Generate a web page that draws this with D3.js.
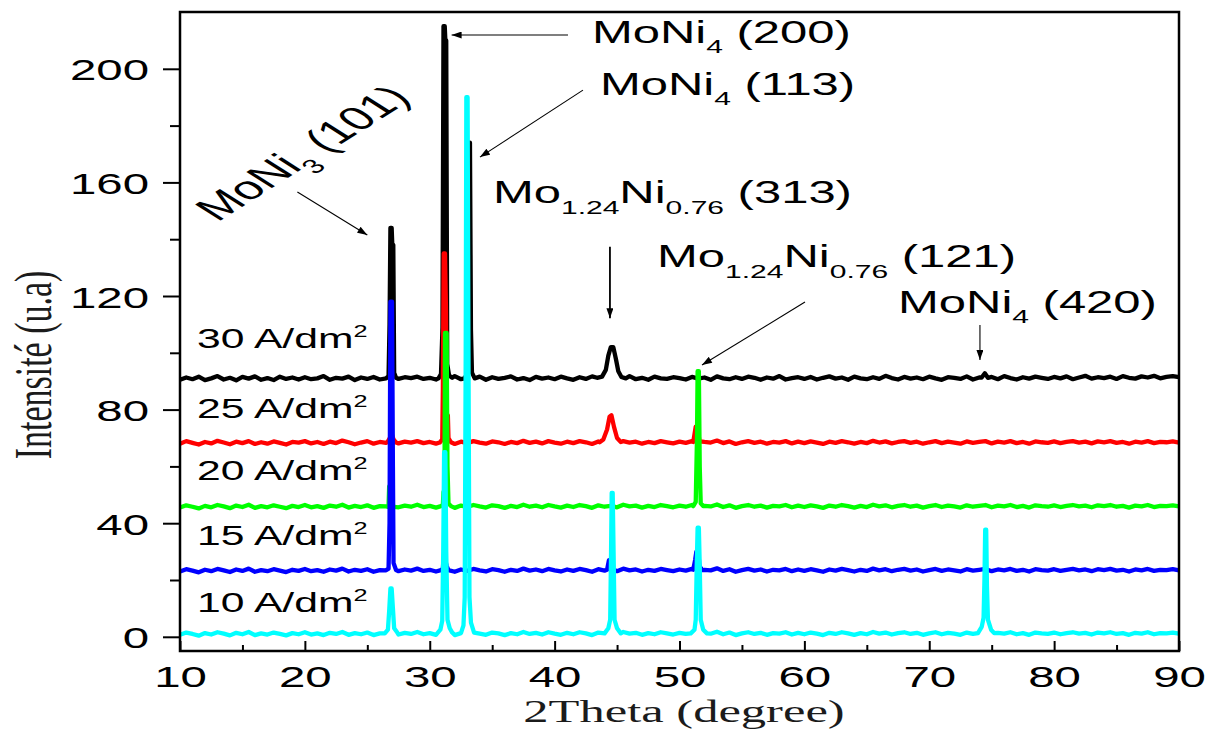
<!DOCTYPE html>
<html>
<head>
<meta charset="utf-8">
<script src="https://cdn.jsdelivr.net/npm/d3@7"></script>
<style>
  html, body { margin: 0; padding: 0; background: #fff; }
  svg { display: block; }
</style>
</head>
<body>
<svg id="chart" width="1216" height="731"></svg>
<script>
// ---- Diffractogram data: intensity (u.a) sampled every 0.5° from 10° to 90° ----
const twoThetaStart = 10, twoThetaEnd = 90, twoThetaStep = 0.5;

const base30 = [
  90.5,91.3,90.7,91.6,90.4,91.0,91.8,90.6,91.2,90.3,91.5,90.9,91.7,90.5,91.1,90.4,91.6,90.8,91.3,90.6,
  91.4,90.7,91.0,91.8,90.5,91.2,90.9,91.6,90.4,91.3,90.8,91.5,90.6,91.7,91.0,90.5,91.4,91.1,91.6,90.8,
  91.2,90.6,91.5,90.9,91.8,90.7,91.3,91.0,91.6,90.5,91.4,90.8,91.2,91.7,90.6,91.1,90.4,91.5,90.9,91.3,
  90.7,91.6,91.0,90.5,91.4,90.8,91.7,91.1,91.5,90.6,91.3,90.9,91.8,90.7,91.2,90.5,91.6,91.0,90.8,91.4,
  91.1,90.6,91.5,90.9,91.3,90.5,91.7,91.0,90.7,91.4,90.8,91.6,91.2,90.5,91.3,90.9,91.8,90.6,91.1,91.4,
  90.8,91.5,90.6,91.2,91.7,90.9,91.3,90.5,91.6,91.0,90.7,91.4,90.8,91.9,91.1,90.6,91.5,90.9,91.3,90.7,
  91.6,91.0,90.5,91.4,91.2,90.8,91.7,90.6,91.3,91.0,91.5,90.7,91.8,91.1,90.6,91.4,90.9,91.6,91.2,90.8,
  91.5,91.0,91.7,90.7,91.3,91.9,90.9,91.4,91.1,91.6,90.8,91.8,91.2,90.9,91.7,91.3,91.9,91.0,91.5,91.8,
  91.4
];
const base25 = [
  68.0,68.9,68.3,67.7,68.6,68.1,69.0,68.4,67.8,68.7,68.2,68.9,67.9,68.5,68.0,68.8,68.3,67.7,68.6,68.4,
  68.9,68.1,68.6,67.9,68.7,68.2,69.1,68.5,67.8,68.4,68.9,68.0,68.6,68.3,69.0,68.1,68.7,68.4,68.9,68.2,
  68.6,68.0,68.8,68.3,67.9,68.7,68.2,68.9,68.4,68.0,68.8,68.5,67.9,68.6,68.2,69.0,68.3,68.7,68.1,68.9,
  68.4,68.0,68.7,68.2,68.9,68.5,67.9,68.8,68.3,68.6,68.1,68.9,68.4,68.7,68.0,68.6,68.2,68.9,68.5,68.1,
  68.7,68.3,68.9,68.0,68.6,68.4,69.1,68.2,68.8,67.9,68.5,68.9,68.3,68.7,68.0,68.6,68.4,68.9,68.1,68.7,
  68.2,68.8,68.4,67.9,68.7,68.3,68.9,68.5,68.0,68.6,68.2,69.0,68.4,68.8,68.1,68.6,68.9,68.3,68.7,68.0,
  68.5,68.9,68.2,68.7,68.4,68.0,68.8,68.3,68.6,68.9,68.1,68.7,68.4,68.9,68.2,68.6,68.0,68.8,68.5,68.3,
  68.8,68.2,68.6,68.9,68.4,68.7,68.1,68.8,68.5,68.9,68.3,68.6,68.0,68.7,68.4,68.9,68.2,68.6,68.5,68.8,
  68.4
];
const base20 = [
  45.5,46.3,45.8,45.2,46.1,45.6,46.4,45.9,45.3,46.2,45.7,46.5,45.4,46.0,45.6,46.3,45.8,45.3,46.1,45.7,
  46.4,45.6,46.0,45.4,46.2,45.8,46.5,45.5,46.1,45.7,46.3,45.4,46.0,45.9,46.4,45.6,46.2,45.8,46.5,45.7,
  46.1,45.5,46.3,45.8,45.4,46.2,45.7,46.4,45.9,45.5,46.3,46.0,45.4,46.1,45.7,46.5,45.8,46.2,45.6,46.4,
  45.9,45.5,46.2,45.7,46.4,46.0,45.4,46.3,45.8,46.1,45.6,46.5,45.9,46.2,45.5,46.1,45.7,46.4,46.0,45.6,
  46.2,45.8,46.4,45.5,46.1,45.9,46.6,45.7,46.3,45.4,46.0,46.4,45.8,46.2,45.5,46.1,45.9,46.4,45.6,46.2,
  45.7,46.3,45.9,45.4,46.2,45.8,46.4,46.0,45.5,46.1,45.7,46.5,45.9,46.3,45.6,46.1,46.4,45.8,46.2,45.5,
  46.0,46.4,45.7,46.2,45.9,45.5,46.3,45.8,46.1,46.4,45.6,46.2,45.9,46.4,45.7,46.1,45.5,46.3,46.0,45.8,
  46.3,45.7,46.1,46.4,45.9,46.2,45.6,46.3,46.0,46.4,45.8,46.1,45.5,46.2,45.9,46.4,45.7,46.1,46.0,46.3,
  45.9
];
const base15 = [
  23.0,23.8,23.3,22.7,23.6,23.1,23.9,23.4,22.8,23.7,23.2,24.0,22.9,23.5,23.1,23.8,23.3,22.8,23.6,23.2,
  23.9,23.1,23.5,22.9,23.7,23.3,24.0,23.0,23.6,23.2,23.8,22.9,23.5,23.4,23.9,23.1,23.7,23.3,24.0,23.2,
  23.6,23.0,23.8,23.3,22.9,23.7,23.2,23.9,23.4,23.0,23.8,23.5,22.9,23.6,23.2,24.0,23.3,23.7,23.1,23.9,
  23.4,23.0,23.7,23.2,23.9,23.5,22.9,23.8,23.3,23.6,23.1,24.0,23.4,23.7,23.0,23.6,23.2,23.9,23.5,23.1,
  23.7,23.3,23.9,23.0,23.6,23.4,24.1,23.2,23.8,22.9,23.5,23.9,23.3,23.7,23.0,23.6,23.4,23.9,23.1,23.7,
  23.2,23.8,23.4,22.9,23.7,23.3,23.9,23.5,23.0,23.6,23.2,24.0,23.4,23.8,23.1,23.6,23.9,23.3,23.7,23.0,
  23.5,23.9,23.2,23.7,23.4,23.0,23.8,23.3,23.6,23.9,23.1,23.7,23.4,23.9,23.2,23.6,23.0,23.8,23.5,23.3,
  23.8,23.2,23.6,23.9,23.4,23.7,23.1,23.8,23.5,23.9,23.3,23.6,23.0,23.7,23.4,23.9,23.2,23.6,23.5,23.8,
  23.4
];
const base10 = [
  0.7,1.5,1.0,0.4,1.3,0.8,1.6,1.1,0.5,1.4,0.9,1.7,0.6,1.2,0.8,1.5,1.0,0.5,1.3,0.9,
  1.6,0.8,1.2,0.6,1.4,1.0,1.7,0.7,1.3,0.9,1.5,0.6,1.2,1.1,1.6,0.8,1.4,1.0,1.7,0.9,
  1.3,0.7,1.5,1.0,0.6,1.4,0.9,1.6,1.1,0.7,1.5,1.2,0.6,1.3,0.9,1.7,1.0,1.4,0.8,1.6,
  1.1,0.7,1.4,0.9,1.6,1.2,0.6,1.5,1.0,1.3,0.8,1.7,1.1,1.4,0.7,1.3,0.9,1.6,1.2,0.8,
  1.4,1.0,1.6,0.7,1.3,1.1,1.8,0.9,1.5,0.6,1.2,1.6,1.0,1.4,0.7,1.3,1.1,1.6,0.8,1.4,
  0.9,1.5,1.1,0.6,1.4,1.0,1.6,1.2,0.7,1.3,0.9,1.7,1.1,1.5,0.8,1.3,1.6,1.0,1.4,0.7,
  1.2,1.6,0.9,1.4,1.1,0.7,1.5,1.0,1.3,1.6,0.8,1.4,1.1,1.6,0.9,1.3,0.7,1.5,1.2,1.0,
  1.5,0.9,1.3,1.6,1.1,1.4,0.8,1.5,1.2,1.6,1.0,1.3,0.7,1.4,1.1,1.6,0.9,1.3,1.2,1.5,
  1.1
];

// Reflection profiles, finely sampled: [2θ, intensity]
const peaks30 = [
  [[26.5,91.0],[26.7,91.8],[26.78,110],[26.85,144],[26.95,144],[27.0,138],[27.08,138],[27.15,93],[27.3,91.2],[27.5,90.8]],
  [[30.7,91.0],[30.9,92.5],[31.02,109],[31.1,215],[31.2,215],[31.25,210],[31.32,210],[31.4,96],[31.55,92],[31.8,91.2]],
  [[32.8,91.0],[32.95,92.5],[33.05,110],[33.12,174],[33.22,174],[33.3,108],[33.38,93],[33.6,91.0]],
  [[43.4,91.2],[43.8,91.6],[44.1,94],[44.3,99],[44.5,102],[44.7,102],[44.9,98],[45.1,93.5],[45.35,91.5],[45.7,91.0]],
  [[74.2,91.3],[74.45,92.8],[74.7,91.2]]
];
const peaks25 = [
  [[26.6,68.5],[26.8,70],[26.95,71.5],[27.1,69.5],[27.3,68.4]],
  [[30.8,68.4],[31.0,69.5],[31.05,87],[31.12,135],[31.22,135],[31.3,115],[31.35,78],[31.45,78],[31.5,70],[31.7,68.5]],
  [[43.6,68.5],[43.9,69.5],[44.2,73],[44.4,77.5],[44.55,78],[44.75,74],[45.0,70],[45.3,68.6]],
  [[51.1,68.6],[51.3,74],[51.45,74],[51.6,68.8]]
];
const peaks20 = [
  [[26.6,45.8],[26.7,46.0],[26.75,53],[26.82,53],[26.88,46.5],[27.0,45.8]],
  [[30.9,46.0],[31.05,46.5],[31.1,51],[31.18,51],[31.22,107],[31.35,107],[31.42,60],[31.5,47],[31.7,46.0]],
  [[51.1,46.0],[51.3,47.5],[51.4,70],[51.45,93.5],[51.55,93.5],[51.62,60],[51.7,47],[51.9,46.0]]
];
const peaks15 = [
  [[26.5,23.4],[26.7,24.0],[26.78,40],[26.85,118],[26.98,118],[27.05,60],[27.1,26],[27.3,23.5]],
  [[30.9,23.5],[31.05,24.0],[31.1,27.5],[31.25,27],[31.35,25],[31.5,23.5]],
  [[44.2,23.6],[44.35,27],[44.5,27],[44.65,23.8]],
  [[51.1,23.6],[51.25,27],[51.35,30],[51.5,30],[51.6,25],[51.8,23.5]]
];
const peaks10 = [
  [[26.4,1.2],[26.65,2.5],[26.75,9],[26.85,17],[26.95,17],[27.05,10],[27.15,3],[27.4,1.5]],
  [[30.6,1.2],[30.85,2.5],[31.0,5.6],[31.08,30],[31.15,65],[31.25,65],[31.32,30],[31.42,6],[31.6,3],[31.8,1.5]],
  [[32.5,1.3],[32.7,4],[32.8,14],[32.88,100],[32.93,190],[33.03,190],[33.1,100],[33.18,14],[33.3,5],[33.55,1.5]],
  [[44.0,1.2],[44.3,3],[44.45,6],[44.52,30],[44.57,50.7],[44.65,50.7],[44.72,30],[44.8,6],[45.0,3],[45.3,1.2]],
  [[50.9,1.2],[51.2,2.5],[51.3,6],[51.38,25],[51.45,38.4],[51.55,38.4],[51.62,25],[51.7,6],[51.9,2.5],[52.2,1.2]],
  [[73.9,1.3],[74.2,3.5],[74.35,6.7],[74.42,20],[74.48,37.7],[74.56,37.7],[74.62,18],[74.7,6],[74.95,2.5],[75.2,1.3]]
];

const currentDensities = ["30", "25", "20", "15", "10"];
const seriesColors = ["#000000", "#ff0000", "#00ff00", "#0000ff", "#00ffff"];
const labelLevels = [101.7, 77.0, 55.2, 32.3, 8.7];   // baseline of each curve label (u.a)

const yMajorTicks = [0, 40, 80, 120, 160, 200];
const yMinorTicks = [20, 60, 100, 140, 180];
const xMajorTicks = [10, 20, 30, 40, 50, 60, 70, 80, 90];
const xMinorTicks = [15, 25, 35, 45, 55, 65, 75, 85];

// Phase labels: text parts [string, size, baseline shift], anchor and arrow in data units
const annotations = [
  { parts: [["MoNi", 33, 0], ["3", 20, 10], [" (101)", 33, 0]], at: [13.0, 145.9], rotate: -45,
    from: [19.4, 156.6], to: [25.0, 141.5] },
  { parts: [["MoNi", 31, 0], ["4", 19, 10], [" (200)", 31, 0]], at: [42.99, 209.1],
    from: [41.07, 211.9], to: [31.75, 211.9] },
  { parts: [["MoNi", 31, 0], ["4", 19, 10], [" (113)", 31, 0]], at: [43.63, 190.8],
    from: [42.27, 192.5], to: [34.02, 168.9] },
  { parts: [["Mo", 31, 0], ["1.24", 19, 11], ["Ni", 31, 0], ["0.76", 19, 11], [" (313)", 31, 0]], at: [35.06, 152.7],
    from: [44.43, 137.3], to: [44.43, 112.2], heavy: true },
  { parts: [["Mo", 31, 0], ["1.24", 19, 11], ["Ni", 31, 0], ["0.76", 19, 11], [" (121)", 31, 0]], at: [48.2, 130.2],
    from: [60.05, 117.9], to: [51.8, 95.7] },
  { parts: [["MoNi", 31, 0], ["4", 19, 10], [" (420)", 31, 0]], at: [67.5, 114.0],
    from: [74.06, 109.8], to: [74.06, 97.5] }
];

// ---- Layout ----
const W = 1216, H = 731;
const plot = { left: 180, right: 1179, top: 12, bottom: 651 };
const SX = 1.58;                 // horizontal stretch applied to all lettering
const sans = "'Liberation Sans', Arial, Helvetica, sans-serif";
const serif = "'Liberation Serif', 'Times New Roman', Times, serif";

const svg = d3.select("#chart");
svg.append("rect").attr("width", W).attr("height", H).attr("fill", "#fff");

const x = d3.scaleLinear().domain([10, 90]).range([plot.left, plot.right]);
const y = d3.scaleLinear().domain([-5, 220]).range([plot.bottom, plot.top]);

const grid = d3.range(twoThetaStart, twoThetaEnd + twoThetaStep / 2, twoThetaStep);

function profile(base, peaks) {
  const pts = grid.map((t, i) => [t, base[i]])
    .filter(([t]) => !peaks.some(g => t >= g[0][0] && t <= g[g.length - 1][0]));
  peaks.forEach(g => g.forEach(p => pts.push(p)));
  pts.sort((a, b) => a[0] - b[0]);
  return pts;
}

const bases = [base30, base25, base20, base15, base10];
const peakSets = [peaks30, peaks25, peaks20, peaks15, peaks10];
const series = currentDensities.map((c, i) => ({
  name: c, color: seriesColors[i], level: labelLevels[i], points: profile(bases[i], peakSets[i])
}));

// Stretched text helper: parts = [[text, size, shift], ...]
function stretchedText(parent, px, py, parts, opts = {}) {
  const rot = opts.rotate ? ` rotate(${opts.rotate})` : "";
  const t = parent.append("text")
    .attr("transform", `translate(${px},${py}) scale(${SX},1)${rot}`)
    .attr("font-family", opts.family || sans)
    .attr("text-anchor", opts.anchor || "start")
    .attr("fill", opts.fill || "#000");
  let prev = 0;
  parts.forEach(([s, size, shift]) => {
    t.append("tspan").attr("font-size", size).attr("dy", shift - prev).text(s);
    prev = shift;
  });
  return t;
}

// ---- Curves (drawn from the highest current density down) ----
const line = d3.line().x(d => x(d[0])).y(d => y(d[1]));
svg.append("g").selectAll("path").data(series).join("path")
  .attr("d", d => line(d.points))
  .attr("fill", "none")
  .attr("stroke", d => d.color)
  .attr("stroke-width", 4.3)
  .attr("stroke-linejoin", "round");

// ---- Axes ----
const yAxis = svg.append("g").attr("transform", `translate(${plot.left},0)`)
  .call(d3.axisLeft(y).tickValues(yMajorTicks).tickSize(17).tickFormat(d3.format("d")));
const yMinor = svg.append("g").attr("transform", `translate(${plot.left},0)`)
  .call(d3.axisLeft(y).tickValues(yMinorTicks).tickSize(10).tickFormat(""));
const xAxis = svg.append("g").attr("transform", `translate(0,${plot.bottom})`)
  .call(d3.axisBottom(x).tickValues(xMajorTicks).tickSize(-10).tickFormat(d3.format("d")));
const xMinor = svg.append("g").attr("transform", `translate(0,${plot.bottom})`)
  .call(d3.axisBottom(x).tickValues(xMinorTicks).tickSize(-6).tickFormat(""));

[yAxis, yMinor, xAxis, xMinor].forEach(g => {
  g.select(".domain").remove();
  g.selectAll(".tick line").attr("stroke", "#000").attr("stroke-width", 2);
});
yAxis.selectAll(".tick text")
  .attr("x", null).attr("dy", null)
  .attr("transform", "translate(-31,11) scale(" + SX + ",1)")
  .attr("font-family", sans).attr("font-size", 30).attr("fill", "#000");
xAxis.selectAll(".tick text")
  .attr("y", null).attr("dy", null)
  .attr("transform", "translate(0,36) scale(" + SX + ",1)")
  .attr("font-family", sans).attr("font-size", 30).attr("fill", "#000");

// Frame
svg.append("rect")
  .attr("x", plot.left).attr("y", plot.top)
  .attr("width", plot.right - plot.left).attr("height", plot.bottom - plot.top)
  .attr("fill", "none").attr("stroke", "#000").attr("stroke-width", 2.5);

// Axis titles
stretchedText(svg, 684, 722, [["2Theta (degree)", 32, 0]], { family: serif, anchor: "middle", fill: "#1b1b1b" });
stretchedText(svg, 51, 365, [["Intensité (u.a)", 34, 0]], { family: serif, anchor: "middle", rotate: -90, fill: "#1b1b1b" });

// Curve labels
series.forEach(s => {
  stretchedText(svg, x(11.36), y(s.level), [[s.name + " A/dm", 27, 0], ["2", 16, -11]]);
});

// Phase annotations with arrows
const defs = svg.append("defs");
defs.append("marker").attr("id", "head")
  .attr("viewBox", "0 0 10 7").attr("refX", 10).attr("refY", 3.5)
  .attr("markerWidth", 11).attr("markerHeight", 7).attr("markerUnits", "userSpaceOnUse")
  .attr("orient", "auto")
  .append("path").attr("d", "M0,0 L10,3.5 L0,7 Z").attr("fill", "#000");

annotations.forEach(a => {
  svg.append("line")
    .attr("x1", x(a.from[0])).attr("y1", y(a.from[1]))
    .attr("x2", x(a.to[0])).attr("y2", y(a.to[1]))
    .attr("stroke", "#000").attr("stroke-width", a.heavy ? 1.8 : 1.1)
    .attr("marker-end", "url(#head)");
  stretchedText(svg, x(a.at[0]), y(a.at[1]), a.parts, { rotate: a.rotate });
});
</script>
</body>
</html>
